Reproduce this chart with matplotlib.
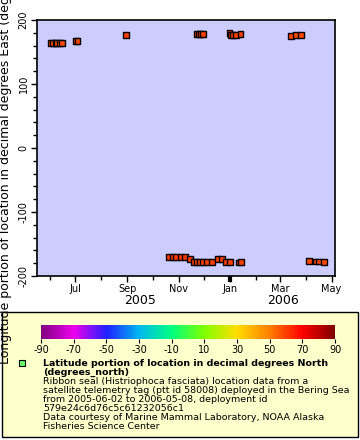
import numpy as np
import pandas as pd
import matplotlib
matplotlib.use("Agg")
import matplotlib.pyplot as plt
import matplotlib.dates as mdates
from matplotlib.colors import LinearSegmentedColormap, Normalize
from matplotlib.patches import Rectangle

plt.rcParams["axes.unicode_minus"] = False

# Dados (data, longitude, latitude)
datas = ["2005-06-03", "2005-06-05", "2005-06-08", "2005-06-10", "2005-06-13", "2005-06-16",
         "2005-07-02", "2005-07-04", "2005-08-30",
         "2005-11-22", "2005-11-25", "2005-11-27", "2005-11-30",
         "2005-12-31", "2006-01-02", "2006-01-04", "2006-01-08", "2006-01-13",
         "2006-03-14", "2006-03-20", "2006-03-26",
         "2005-10-20", "2005-10-25", "2005-10-29", "2005-11-03", "2005-11-08", "2005-11-14",
         "2005-11-19", "2005-11-22", "2005-11-26", "2005-11-30", "2005-12-04", "2005-12-10",
         "2005-12-17", "2005-12-22", "2005-12-27", "2006-01-01", "2006-01-11", "2006-01-14",
         "2006-04-04", "2006-04-12", "2006-04-16", "2006-04-22"]
longitude = [163.5, 163.5, 163.5, 163.5, 163.8, 164.5,
             167.0, 167.7, 177.0,
             178.6, 178.6, 178.6, 178.6,
             179.5, 177.0, 176.0, 176.5, 178.6,
             175.0, 176.0, 177.0,
             -170.3, -170.5, -170.5, -170.3, -170.8, -173.0,
             -178.6, -178.6, -178.6, -178.3, -178.3, -178.3,
             -173.4, -173.4, -178.6, -178.6, -179.0, -177.6,
             -176.0, -177.5, -177.5, -178.6]
latitude = [58, 58, 58, 58, 58, 58,
            59, 59, 60,
            60, 60, 60, 60,
            60, 60, 60, 60, 60,
            59, 59, 59,
            61, 61, 61, 61, 61, 61,
            60, 60, 60, 60, 60, 60,
            60, 60, 60, 60, 60, 60,
            59, 59, 59, 59]

datas = pd.to_datetime(datas)

# Paleta (arco-íris do ERDDAP)
cores = ["#800080", "#ee00ee", "#2020ff", "#00b8f0", "#00ff80",
         "#80ff00", "#ffdd00", "#ff8000", "#ff0000", "#800000"]
cmap = LinearSegmentedColormap.from_list("arcoiris", cores)
norm = Normalize(-90, 90)

W, H = 360, 440
fig = plt.figure(figsize=(W / 100, H / 100), dpi=100)

#---------------------------Legenda (fundo)---------------------------
fig.patches.append(Rectangle((2 / W, 1 - 437 / H), 356 / W, 125 / H, transform=fig.transFigure,
                             facecolor="#ffffcc", edgecolor="black", linewidth=1, zorder=-5))

#---------------------------Gráfico Principal---------------------------
ax = fig.add_axes([37 / W, 1 - 276 / H, 298 / W, 256 / H])
ax.set_zorder(2)
ax.set_facecolor("#ccccff")
ax.scatter(datas, longitude, c=latitude, cmap=cmap, norm=norm, marker="s",
           s=17, edgecolors="black", linewidths=1.0, zorder=3)

ax.set_xlim(pd.Timestamp("2005-05-17"), pd.Timestamp("2006-05-05"))
ax.set_ylim(-200, 200)

ax.xaxis.set_major_locator(mdates.MonthLocator(bymonth=[1, 3, 5, 7, 9, 11]))
ax.xaxis.set_major_formatter(mdates.DateFormatter("%b"))
ax.xaxis.set_minor_locator(mdates.MonthLocator())
ax.set_yticks([-200, -100, 0, 100, 200])
ax.yaxis.set_minor_locator(matplotlib.ticker.MultipleLocator(20))
ax.tick_params(axis="both", which="major", labelsize=7, length=4, width=1, pad=2)
ax.tick_params(axis="both", which="minor", length=3, width=1)
for lbl in ax.get_yticklabels():
    lbl.set_rotation(90)
    lbl.set_va("center")
for s in ax.spines.values():
    s.set_linewidth(1.2)

# Marca mais grossa na virada do ano
ax.plot([pd.Timestamp("2006-01-01")] * 2, [-0.022, 0], transform=ax.get_xaxis_transform(),
        color="black", linewidth=3, clip_on=False, solid_capstyle="butt")

fig.text(140 / W, 1 - 300 / H, "2005", fontsize=9, ha="center", va="center")
fig.text(283 / W, 1 - 300 / H, "2006", fontsize=9, ha="center", va="center")

ax.set_ylabel("Longitude portion of location in decimal degrees East (degrees_east)",
              fontsize=9)
ax.yaxis.set_label_coords(-0.084, 0.5)

#---------------------------Legenda---------------------------
cax = fig.add_axes([41 / W, 1 - 339 / H, 294 / W, 14 / H])
cb = matplotlib.colorbar.ColorbarBase(cax, cmap=cmap, norm=norm, orientation="horizontal")
cb.set_ticks(list(range(-90, 91, 20)))
cb.outline.set_visible(False)
cax.tick_params(labelsize=7, length=3, pad=1)

fig.patches.append(Rectangle((19 / W, 1 - 366 / H), 6 / W, 6 / H, transform=fig.transFigure,
                             facecolor="#66ff66", edgecolor="black", linewidth=0.8, zorder=3))

linhas = [("Latitude portion of location in decimal degrees North", "bold"),
          ("(degrees_north)", "bold"),
          ("Ribbon seal (Histriophoca fasciata) location data from a", "normal"),
          ("satellite telemetry tag (ptt id 58008) deployed in the Bering Sea", "normal"),
          ("from 2005-06-02 to 2006-05-08, deployment id", "normal"),
          ("579e24c6d76c5c61232056c1", "normal"),
          ("Data courtesy of Marine Mammal Laboratory, NOAA Alaska", "normal"),
          ("Fisheries Science Center", "normal")]
for i, (txt, peso) in enumerate(linhas):
    fig.text(43 / W, 1 - (363 + i * 9) / H, txt, fontsize=6.8, fontweight=peso,
             ha="left", va="center")

fig.savefig("out.png", dpi=100)
